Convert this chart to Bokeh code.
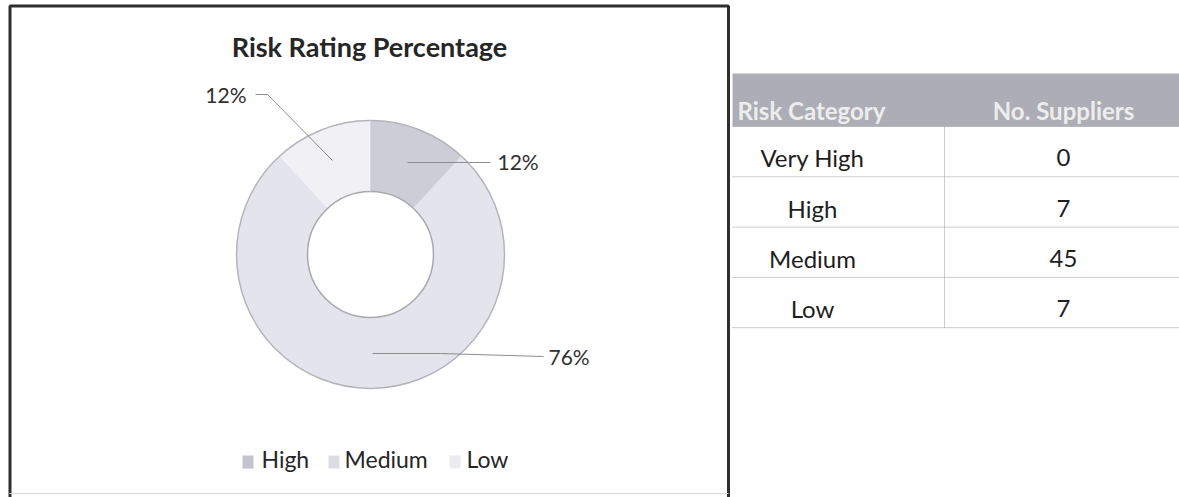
import math
from bokeh.plotting import figure
from bokeh.models import Range1d
from bokeh.core.properties import value
from bokeh.embed import file_html
from bokeh.resources import INLINE

# ---------------- data ----------------
chart_title = "Risk Rating Percentage"
donut_categories = ["High", "Medium", "Low"]
donut_values = [7, 45, 7]
donut_colors = ["#cdcdd6", "#e4e4ec", "#f1f1f5"]
legend_colors = ["#c4c4cc", "#dcdce3", "#ececf0"]

table_headers = ["Risk Category", "No. Suppliers"]
table_categories = ["Very High", "High", "Medium", "Low"]
table_suppliers = [0, 7, 45, 7]

# ---------------- layout ----------------
W, H = 1179, 497
FONT = value("Lato")
TS = 9.5  # text baseline correction


def X(px):
    return px


def Y(py):
    return H - py


def YT(py):
    return H - (py - TS)


p = figure(width=W, height=H, output_backend="svg", toolbar_location=None,
           x_range=Range1d(0, W), y_range=Range1d(0, H), min_border=0)
p.axis.visible = False
p.grid.visible = False
p.outline_line_color = None
p.background_fill_color = "white"
p.border_fill_color = "white"

# chart frame
p.multi_line(xs=[[X(9.5), X(9.5), X(728), X(728)]],
             ys=[[Y(497), Y(5.5), Y(5.5), Y(497)]],
             line_color="#2e2e2e", line_width=3)
p.segment(x0=[X(9)], x1=[X(728)], y0=[Y(493)], y1=[Y(493)],
          line_color="#d8d8d8", line_width=1)

# title
p.text(x=[X(369)], y=[YT(55)], text=[chart_title], text_align="center",
       text_baseline="alphabetic", text_font=FONT, text_font_style="bold",
       text_font_size="27px", text_color="#262626")

# donut
CX, CY, R_OUT, R_IN = 370, 254, 134, 63
total = sum(donut_values)
starts, ends = [], []
cum = 0.0
for v in donut_values:
    starts.append(math.pi / 2 - 2 * math.pi * cum / total)
    cum += v
    ends.append(math.pi / 2 - 2 * math.pi * cum / total)

p.annular_wedge(x=[X(CX)] * len(donut_values), y=[Y(CY)] * len(donut_values),
                inner_radius=R_IN, outer_radius=R_OUT,
                start_angle=starts, end_angle=ends, direction="clock",
                fill_color=donut_colors, line_color=None)
# soft edges
p.circle(x=[X(CX)], y=[Y(CY)], radius=R_OUT, fill_color=None,
         line_color="#b4b4bc", line_width=1.5)
p.circle(x=[X(CX)], y=[Y(CY)], radius=R_IN, fill_color=None,
         line_color="#a8a8b0", line_width=1.5)
# edges of the High slice
for a in (starts[0], ends[0]):
    p.segment(x0=[X(CX) + R_IN * math.cos(a)], y0=[Y(CY) + R_IN * math.sin(a)],
              x1=[X(CX) + R_OUT * math.cos(a)], y1=[Y(CY) + R_OUT * math.sin(a)],
              line_color="#d8d8e0", line_width=1)

# percentage labels with leader lines
pct_labels = [f"{round(v / total * 100)}%" for v in donut_values]
leaders = [
    [(407, 162), (490, 162)],
    [(372, 353), (440, 353), (543, 356)],
    [(332, 160), (267, 94), (255, 94)],
]
label_pos = [(497, 170, "left"), (548, 365, "left"), (246, 103, "right")]
p.multi_line(xs=[[X(a) for a, b in L] for L in leaders],
             ys=[[Y(b) for a, b in L] for L in leaders],
             line_color="#8c8c8c", line_width=1)
for (lx, ly, al), t in zip(label_pos, pct_labels):
    p.text(x=[X(lx)], y=[YT(ly)], text=[t], text_align=al,
           text_baseline="alphabetic", text_font=FONT, text_font_size="21px",
           text_color="#303030")

# legend
leg_sq_x = [242, 328, 449]
leg_tx_x = [261, 344, 466]
for c, sx, tx, name in zip(legend_colors, leg_sq_x, leg_tx_x, donut_categories):
    p.quad(left=[X(sx)], right=[X(sx + 11)], top=[Y(455)], bottom=[Y(468)],
           fill_color=c, line_color=None)
    p.text(x=[X(tx)], y=[YT(468)], text=[name], text_align="left",
           text_baseline="alphabetic", text_font=FONT, text_font_size="23px",
           text_color="#262626")

# ---------------- table ----------------
TX0, TX1, TCOL = 732, 1179, 944
HDR_TOP, HDR_BOT, ROW_H = 73, 126, 50.3
p.quad(left=[X(TX0)], right=[X(TX1)], top=[Y(HDR_TOP)], bottom=[Y(HDR_BOT)],
       fill_color="#adadb5", line_color=None)
p.text(x=[X(737), X(1063)], y=[YT(119.5), YT(119.5)], text=table_headers,
       text_align=["left", "center"], text_baseline="alphabetic", text_font=FONT,
       text_font_style="bold", text_font_size="24px", text_color="#ededed")

n = len(table_categories)
row_bottoms = [HDR_BOT + (i + 1) * ROW_H for i in range(n)]
p.segment(x0=[X(TX0)] * (n + 1), x1=[X(TX1)] * (n + 1),
          y0=[Y(HDR_BOT)] + [Y(b) for b in row_bottoms],
          y1=[Y(HDR_BOT)] + [Y(b) for b in row_bottoms],
          line_color="#9a9a9a", line_width=1, line_dash="1 1")
p.segment(x0=[X(TCOL)], x1=[X(TCOL)], y0=[Y(HDR_BOT)], y1=[Y(row_bottoms[-1])],
          line_color="#9a9a9a", line_width=1, line_dash="1 1")
p.text(x=[X(812)] * n, y=[YT(b - 9.5) for b in row_bottoms], text=table_categories,
       text_align="center", text_baseline="alphabetic", text_font=FONT,
       text_font_size="24px", text_color="#1e1e1e")
p.text(x=[X(1063)] * n, y=[YT(b - 9.5) for b in row_bottoms],
       text=[str(s) for s in table_suppliers],
       text_align="center", text_baseline="alphabetic", text_font=FONT,
       text_font_size="24px", text_color="#1e1e1e")

open("out.html", "w").write(file_html(p, INLINE))
